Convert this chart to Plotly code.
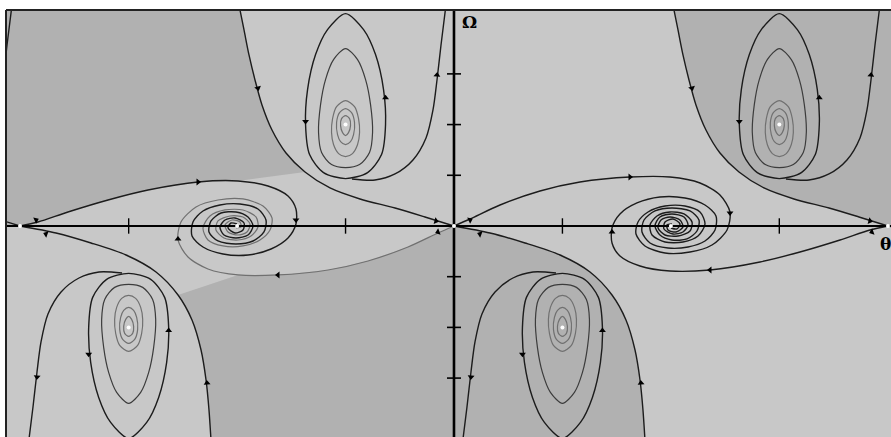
import numpy as np
import plotly.graph_objects as go

TWO_PI = 2 * np.pi

# --- separatrices of the saddle at the origin -------------------------------
# stable branch arriving from the upper left
sep_up_theta = [-3.113, -3.040, -2.968, -2.881, -2.780, -2.635, -2.432, -2.157,
                -1.795, -1.361, -0.854, -0.420, 0.0]
sep_up_omega = [4.36, 3.866, 3.373, 2.880, 2.387, 1.893, 1.440, 1.065,
                0.750, 0.533, 0.355, 0.178, 0.0]
# stable branch arriving from the lower right
sep_dn_theta = [2.765, 2.736, 2.693, 2.621, 2.490, 2.288, 1.969, 1.535, 1.028, 0.521, 0.0]
sep_dn_omega = [-4.221, -3.629, -3.037, -2.446, -1.854, -1.361, -0.907, -0.572, -0.335, -0.138, 0.0]

# unstable branch: origin -> focus at theta ~ pi
orig_theta = [0, 0.232, 0.666, 1.245, 1.824, 2.548, 3.127, 3.562, 3.851, 3.996, 3.953, 3.735,
              3.417, 3.055, 2.765, 2.635, 2.664, 2.809, 3.055, 3.344, 3.562, 3.634, 3.533,
              3.315, 3.055, 2.867, 2.838, 2.939, 3.127, 3.330, 3.446, 3.417, 3.243, 3.055,
              2.954, 2.997, 3.127, 3.272, 3.315, 3.214, 3.098, 3.084, 3.156]
orig_omega = [0, 0.138, 0.414, 0.690, 0.868, 0.966, 0.966, 0.848, 0.611, 0.276, -0.079, -0.375,
              -0.513, -0.533, -0.394, -0.158, 0.079, 0.276, 0.394, 0.394, 0.276, 0.039, -0.197,
              -0.316, -0.316, -0.178, 0.020, 0.197, 0.276, 0.237, 0.079, -0.099, -0.197, -0.178,
              -0.039, 0.118, 0.178, 0.118, -0.020, -0.118, -0.079, 0.020, 0.039]
# unstable branch: saddle at 2*pi -> same focus
right_theta = [6.283, 6.023, 5.589, 5.009, 4.430, 3.706, 3.127, 2.693, 2.403, 2.288, 2.288, 2.403,
               2.649, 2.982, 3.344, 3.634, 3.793, 3.779, 3.634, 3.388, 3.098, 2.838, 2.722, 2.751,
               2.910, 3.156, 3.417, 3.547, 3.518, 3.373, 3.156, 2.982, 2.910, 2.982, 3.156, 3.330,
               3.388, 3.315, 3.171, 3.040, 3.055, 3.171, 3.272, 3.229, 3.142]
right_omega = [0, -0.079, -0.276, -0.513, -0.710, -0.868, -0.888, -0.789, -0.592, -0.335, -0.039,
               0.237, 0.454, 0.572, 0.552, 0.414, 0.197, -0.079, -0.296, -0.414, -0.434, -0.335,
               -0.118, 0.118, 0.296, 0.355, 0.296, 0.118, -0.099, -0.256, -0.276, -0.178, 0.0,
               0.178, 0.237, 0.178, 0.020, -0.118, -0.158, -0.059, 0.079, 0.138, 0.039, -0.059,
               -0.039]

# trajectory leaving the upper-left focus region through the top edge
exit_theta = [-1.477, -1.144, -0.854, -0.594, -0.405, -0.304, -0.246, -0.188, -0.116]
exit_omega = [0.927, 0.907, 1.026, 1.302, 1.736, 2.288, 2.880, 3.570, 4.359]

# teardrop loops around an upper focus (offsets from the focus)
loop_dtheta = [
    [0, 0.261, 0.434, 0.550, 0.579, 0.521, 0.319, 0, -0.319, -0.521, -0.579, -0.550, -0.434, -0.261, 0],
    [0, 0.174, 0.290, 0.362, 0.391, 0.347, 0.203, 0, -0.203, -0.347, -0.391, -0.362, -0.290, -0.174, 0],
    [0, 0.130, 0.188, 0.203, 0.174, 0.101, 0, -0.101, -0.174, -0.203, -0.188, -0.130, 0],
    [0, 0.087, 0.130, 0.116, 0.072, 0, -0.072, -0.116, -0.130, -0.087, 0],
    [0, 0.058, 0.072, 0.043, 0, -0.043, -0.072, -0.058, 0],
]
loop_domega = [
    [2.189, 1.874, 1.381, 0.690, 0, -0.592, -0.947, -1.065, -0.947, -0.592, 0, 0.690, 1.381, 1.874, 2.189],
    [1.499, 1.282, 0.888, 0.394, -0.158, -0.552, -0.789, -0.848, -0.789, -0.552, -0.158, 0.394, 0.888, 1.282, 1.499],
    [0.473, 0.355, 0.118, -0.158, -0.394, -0.572, -0.631, -0.572, -0.394, -0.158, 0.118, 0.355, 0.473],
    [0.316, 0.237, 0.039, -0.197, -0.335, -0.394, -0.335, -0.197, 0.039, 0.237, 0.316],
    [0.178, 0.118, -0.020, -0.158, -0.217, -0.158, -0.020, 0.118, 0.178],
]

# equilibria
upper_foci_theta = [-1.57, 4.71]
upper_foci_omega = [2.0, 2.0]
lower_foci_theta = [1.57, -4.71]
lower_foci_omega = [-2.0, -2.0]
axis_foci_theta = [-3.14, 3.14]
saddle_theta = [-6.283, 0.0, 6.283]

# direction arrows: theta, omega, heading (degrees clockwise from up)
arrow_theta = [-2.149, -0.991, 4.131, 5.289, 2.149, 0.991, -4.131, -5.289,
               -0.246, 6.037, 0.246, -6.037, -2.838, 3.445, 2.707, -3.576,
               2.548, 3.996, 3.706, 2.288, -2.548, -3.996, -3.706, -2.288,
               -0.261, -0.232, 0.232, 0.376, -6.051, -5.907, 6.022, 6.051]
arrow_omega = [2.06, 2.53, 2.06, 2.53, -2.06, -2.53, -2.06, -2.53,
               2.978, 2.978, -2.978, -2.978, 2.722, 2.722, -3.097, -3.097,
               0.966, 0.256, -0.868, -0.118, -0.966, -0.256, 0.868, 0.118,
               0.099, -0.118, 0.118, -0.158, 0.118, -0.158, 0.099, -0.118]
arrow_heading = [180, 0, 180, 0, 0, 180, 0, 180,
                 5, 5, 185, 185, 165, 165, 355, 355,
                 90, 180, 270, 0, 270, 0, 90, 180,
                 105, 250, 65, 290, 65, 290, 105, 250]

omega_ticks = [-3, -2, -1, 1, 2, 3]
theta_ticks = [-4.71, -1.57, 1.57, 4.71]

X_RANGE = [-6.486, 6.327]
Y_RANGE = [-4.162, 4.260]

LIGHT = "#c8c8c8"
DARK = "#b1b1b1"
INK = "#1c1c1c"
MID = "#3c3c3c"
GREY = "#707070"

a_t, a_o = np.array(sep_up_theta), np.array(sep_up_omega)
b_t, b_o = np.array(sep_dn_theta), np.array(sep_dn_omega)
o_t, o_o = np.array(orig_theta), np.array(orig_omega)
r_t, r_o = np.array(right_theta), np.array(right_omega)
e_t, e_o = np.array(exit_theta), np.array(exit_omega)

fig = go.Figure()


def poly(xs, ys, color):
    fig.add_trace(go.Scatter(x=xs, y=ys, fill="toself", fillcolor=color, mode="none",
                             hoverinfo="skip", showlegend=False))


def curve(xs, ys, color=INK, width=1.4):
    fig.add_trace(go.Scatter(x=xs, y=ys, mode="lines",
                             line=dict(color=color, width=width, shape="spline", smoothing=0.8),
                             hoverinfo="skip", showlegend=False))


# --- shaded regions ----------------------------------------------------------
top, bot, lft, rgt = 4.5, -4.5, -6.7, 6.7
# upper left: left of the stable separatrix, above the branch leaving the left saddle
l_t, l_o = -r_t, -r_o
poly([lft, a_t[0]] + list(a_t[:8]) + list(l_t[6::-1]) + [lft],
     [top, top] + list(a_o[:8]) + list(l_o[6::-1]) + [0], DARK)
# lower middle: between the lower stable separatrices
bl_t = b_t - TWO_PI
ol_t, ol_o = -o_t, -o_o
poly([bl_t[0]] + list(bl_t[:6]) + list(ol_t[6::-1]) + list(b_t[::-1]) + [b_t[0]],
     [bot] + list(b_o[:6]) + list(ol_o[6::-1]) + list(b_o[::-1]) + [bot], DARK)
# upper right: right of the shifted stable separatrix
ar_t = a_t + TWO_PI
poly([ar_t[0]] + list(ar_t) + [rgt, rgt], [top] + list(a_o) + [0, top], DARK)

# --- trajectories ------------------------------------------------------------
# separatrices (periodic copies)
for s in (-TWO_PI, 0, TWO_PI):
    curve(a_t + s, a_o)
    curve(b_t + s, b_o)
# unstable branches into the axis foci (right focus, and its mirror image)
curve(o_t, o_o)
curve(r_t, r_o)
curve(-o_t, -o_o, color=GREY, width=1.2)
curve(-r_t, -r_o)
# exit trajectories of the off-axis foci
for s in (-TWO_PI, 0, TWO_PI):
    curve(e_t + s, e_o)
for s in (-TWO_PI, 0):
    curve(-e_t + s, -e_o)

# teardrop spirals
styles = [(INK, 1.4), (MID, 1.2), (GREY, 1.2), (GREY, 1.2), (GREY, 1.2)]
for ft, fo in zip(upper_foci_theta, upper_foci_omega):
    for (dt, do), (c, w) in zip(zip(loop_dtheta, loop_domega), styles):
        curve(ft + np.array(dt), fo + np.array(do), color=c, width=w)
for ft, fo in zip(lower_foci_theta, lower_foci_omega):
    for (dt, do), (c, w) in zip(zip(loop_dtheta, loop_domega), styles):
        curve(ft - np.array(dt), fo - np.array(do), color=c, width=w)

# --- coordinate axes -----------------------------------------------------------
fig.add_trace(go.Scatter(x=[X_RANGE[0], X_RANGE[1]], y=[0, 0], mode="lines",
                         line=dict(color="black", width=2.2), hoverinfo="skip", showlegend=False))
fig.add_trace(go.Scatter(x=[0, 0], y=[Y_RANGE[0], Y_RANGE[1]], mode="lines",
                         line=dict(color="black", width=2.6), hoverinfo="skip", showlegend=False))
fig.add_trace(go.Scatter(x=[0] * len(omega_ticks), y=omega_ticks, mode="markers",
                         marker=dict(symbol="line-ew", size=10, line=dict(color="black", width=1.6)),
                         hoverinfo="skip", showlegend=False))
fig.add_trace(go.Scatter(x=theta_ticks, y=[0] * len(theta_ticks), mode="markers",
                         marker=dict(symbol="line-ns", size=11, line=dict(color="black", width=1.4)),
                         hoverinfo="skip", showlegend=False))

# arrows
fig.add_trace(go.Scatter(x=arrow_theta, y=arrow_omega, mode="markers",
                         marker=dict(symbol="triangle-up", size=6, color="black", angle=arrow_heading),
                         hoverinfo="skip", showlegend=False))

# equilibrium points
eq_t = saddle_theta + axis_foci_theta + upper_foci_theta + lower_foci_theta
eq_o = [0, 0, 0] + [0, 0] + upper_foci_omega + lower_foci_omega
fig.add_trace(go.Scatter(x=eq_t, y=eq_o, mode="markers",
                         marker=dict(symbol="circle", size=4, color="white"),
                         hoverinfo="skip", showlegend=False))

fig.add_annotation(x=0.08, y=4.02, xref="x", yref="y", text="<b>Ω</b>", showarrow=False,
                   xanchor="left", font=dict(family="DejaVu Serif", size=17, color="black"))
fig.add_annotation(x=6.14, y=-0.36, xref="x", yref="y", text="<b>θ</b>", showarrow=False,
                   xanchor="left", font=dict(family="DejaVu Serif", size=17, color="black"))

fig.update_layout(
    width=891, height=437,
    margin=dict(l=6, r=0, t=10, b=0),
    paper_bgcolor="white", plot_bgcolor=LIGHT,
    xaxis=dict(range=X_RANGE, showgrid=False, zeroline=False, showticklabels=False,
               ticks="", fixedrange=True),
    yaxis=dict(range=Y_RANGE, showgrid=False, zeroline=False, showticklabels=False,
               ticks="", fixedrange=True),
    shapes=[
        dict(type="line", xref="paper", yref="paper", x0=0, x1=1, y0=1, y1=1,
             line=dict(color="#222", width=2)),
        dict(type="line", xref="paper", yref="paper", x0=0, x1=0, y0=0, y1=1,
             line=dict(color="#222", width=2)),
    ],
    showlegend=False,
)

fig.write_html("out.html")
